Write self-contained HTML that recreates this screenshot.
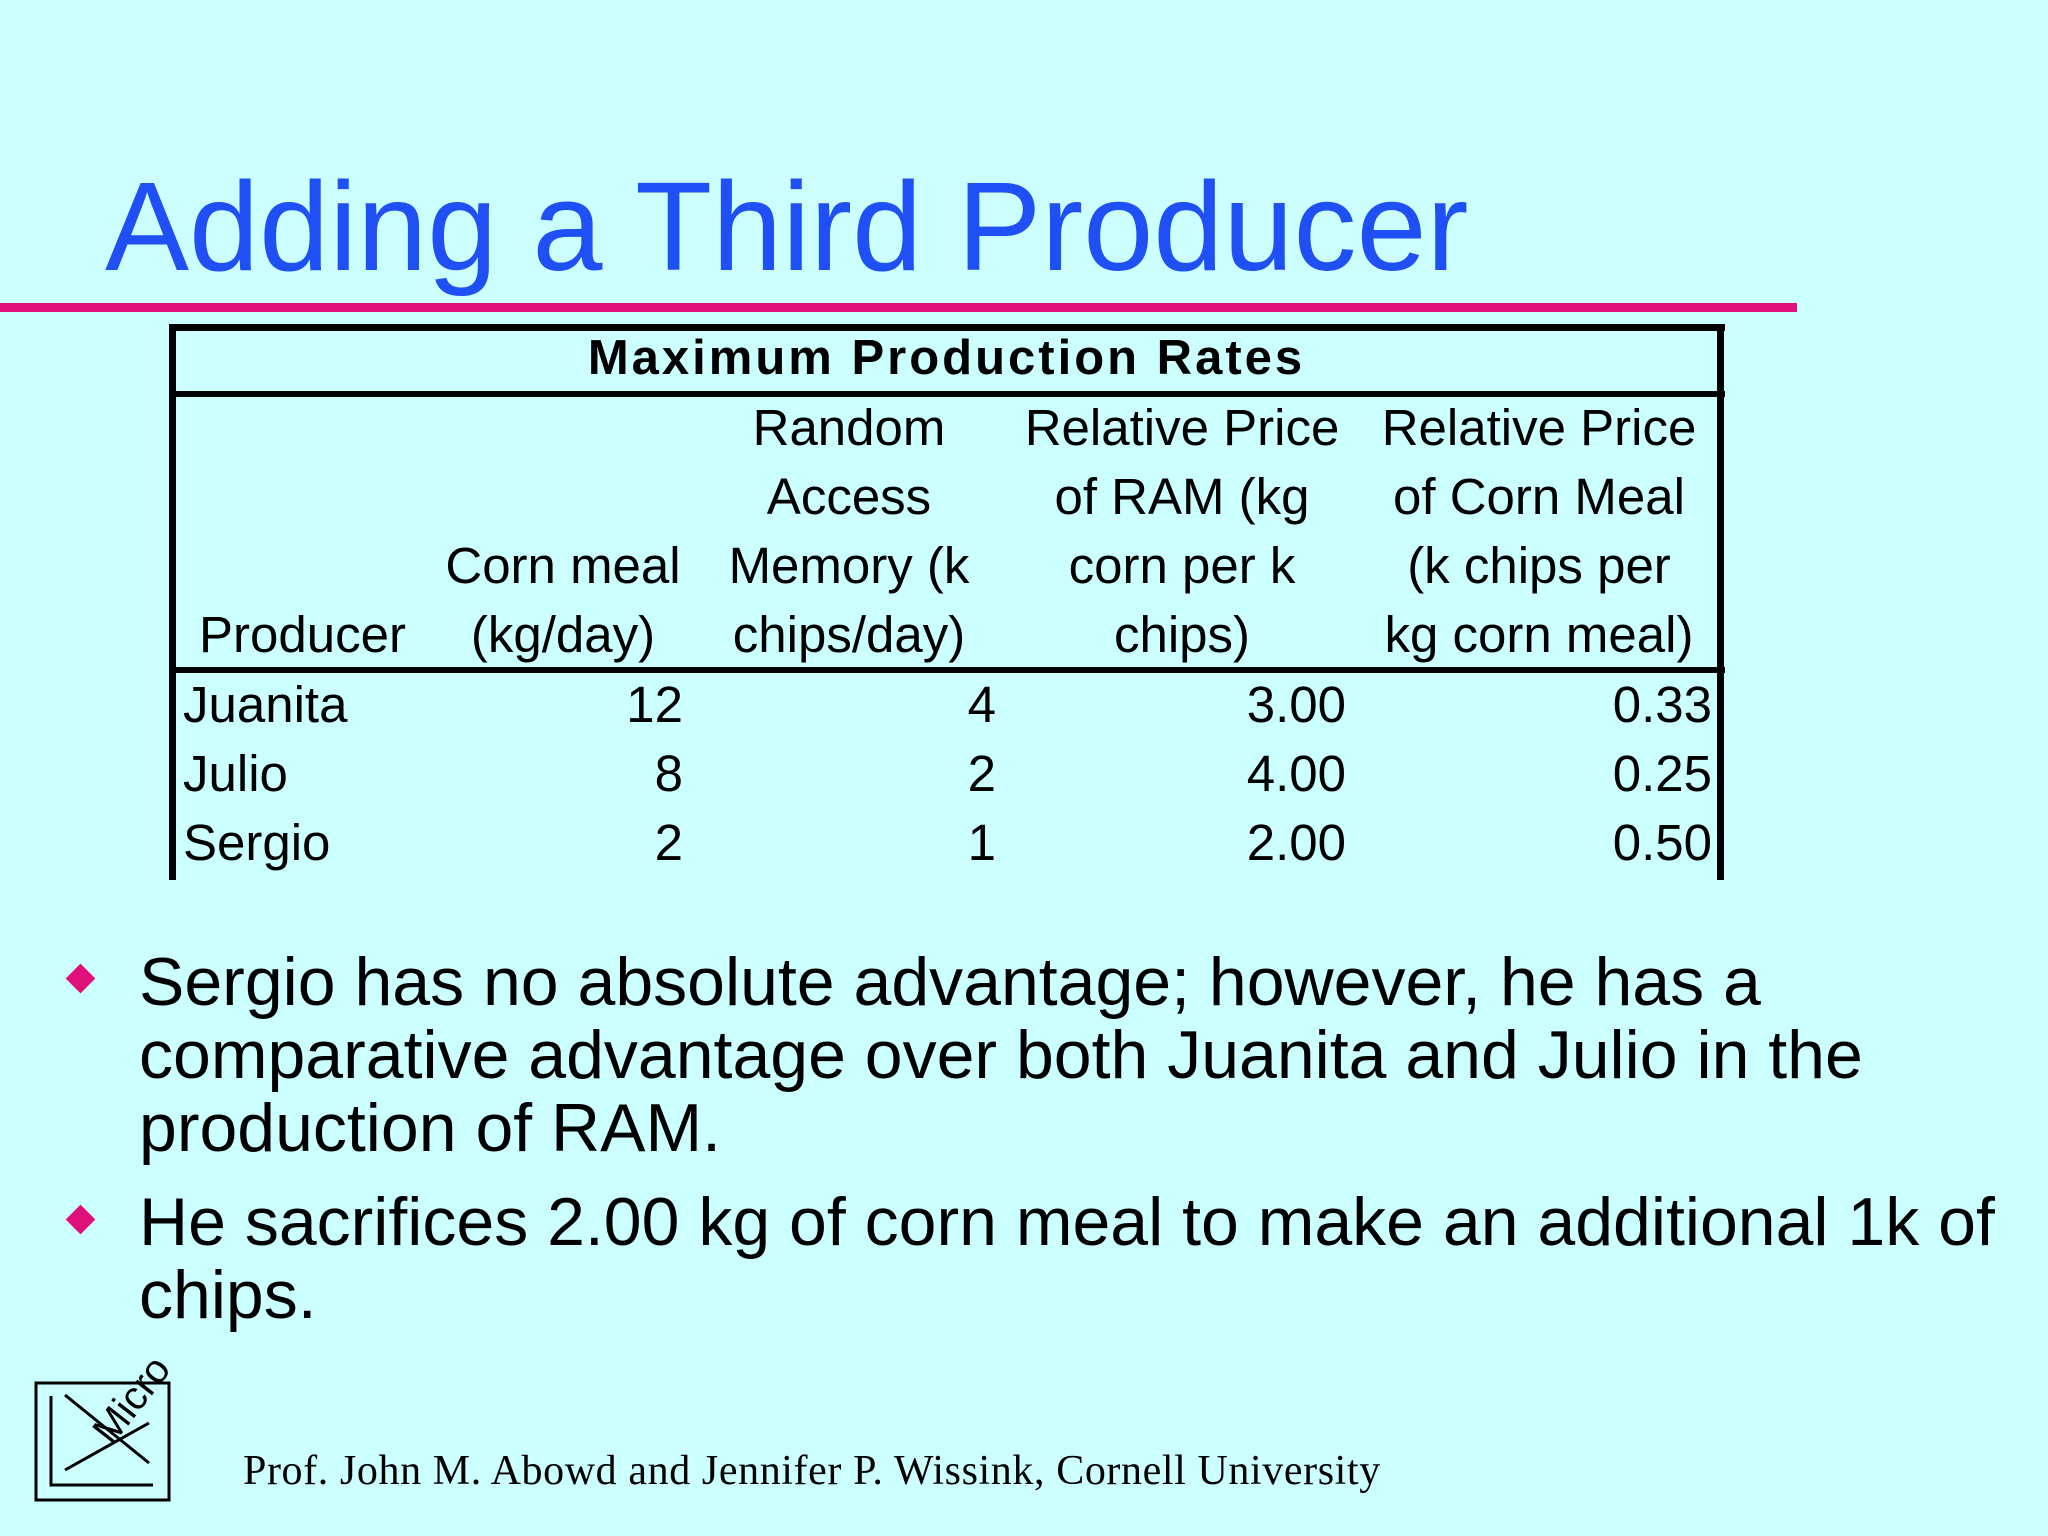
<!DOCTYPE html>
<html><head><meta charset="utf-8"><style>
body{margin:0;width:2048px;height:1536px;background:#ccffff;position:relative;overflow:hidden;font-family:"Liberation Sans",sans-serif;color:#000}
.a{position:absolute;white-space:nowrap}
.h{font-size:51px;line-height:69px}
.c{text-align:center}.r{text-align:right}
</style></head><body>
<div class="a" style="left:105px;top:152px;font-size:126px;color:#1f50f5;line-height:150px">Adding a Third Producer</div>
<div class="a" style="left:0;top:303px;width:1797px;height:9px;background:#e0107a"></div>
<div>
<div class="a" style="left:169px;top:324px;width:1556px;height:7px;background:#000"></div>
<div class="a" style="left:169px;top:324px;width:7px;height:556px;background:#000"></div>
<div class="a" style="left:1717px;top:324px;width:7px;height:556px;background:#000"></div>
<div class="a" style="left:169px;top:391px;width:1556px;height:6px;background:#000"></div>
<div class="a" style="left:169px;top:667px;width:1556px;height:6px;background:#000"></div>
<div class="a c" style="left:176px;width:1541px;top:329px;font-size:49px;font-weight:bold;letter-spacing:3px;line-height:58px">Maximum Production Rates</div>
<div class="a c h" style="left:180px;width:245px;top:600px">Producer</div>
<div class="a c h" style="left:433px;width:260px;top:531px">Corn meal<br>(kg/day)</div>
<div class="a c h" style="left:709px;width:280px;top:393px">Random<br>Access<br>Memory (k<br>chips/day)</div>
<div class="a c h" style="left:1012px;width:340px;top:393px">Relative Price<br>of RAM (kg<br>corn per k<br>chips)</div>
<div class="a c h" style="left:1369px;width:340px;top:393px">Relative Price<br>of Corn Meal<br>(k chips per<br>kg corn meal)</div>
<div class="a h" style="left:183px;top:670px">Juanita<br>Julio<br>Sergio</div>
<div class="a r h" style="left:500px;width:183px;top:670px">12<br>8<br>2</div>
<div class="a r h" style="left:800px;width:196px;top:670px">4<br>2<br>1</div>
<div class="a r h" style="left:1100px;width:246px;top:670px">3.00<br>4.00<br>2.00</div>
<div class="a r h" style="left:1450px;width:262px;top:670px">0.33<br>0.25<br>0.50</div>
</div>
<div class="a" style="left:70px;top:968px;width:21px;height:21px;background:#e0107a;transform:rotate(45deg)"></div>
<div class="a" style="left:139px;top:946px;font-size:68px;line-height:73px">Sergio has no absolute advantage; however, he has a<br>comparative advantage over both Juanita and Julio in the<br>production of RAM.</div>
<div class="a" style="left:70px;top:1209px;width:21px;height:21px;background:#e0107a;transform:rotate(45deg)"></div>
<div class="a" style="left:139px;top:1186px;font-size:68px;line-height:73px">He sacrifices 2.00 kg of corn meal to make an additional 1k of<br>chips.</div>
<svg class="a" style="left:0;top:1330px" width="200" height="190">
<rect x="36" y="53" width="133" height="117" fill="none" stroke="#000" stroke-width="3"/>
<polyline points="51,66 51,155 153,155" fill="none" stroke="#000" stroke-width="3"/>
<line x1="65" y1="65" x2="149" y2="133" stroke="#000" stroke-width="3"/>
<line x1="65" y1="140" x2="149" y2="93" stroke="#000" stroke-width="3"/>
<text x="142" y="78" font-family="Liberation Sans" font-size="40" transform="rotate(-52 142 78)" text-anchor="middle">Micro</text>
</svg>
<div class="a" style="left:243px;top:1446px;font-family:'Liberation Serif',serif;font-size:42px;letter-spacing:0.6px;line-height:50px">Prof. John M. Abowd and Jennifer P. Wissink, Cornell University</div>
</body></html>
